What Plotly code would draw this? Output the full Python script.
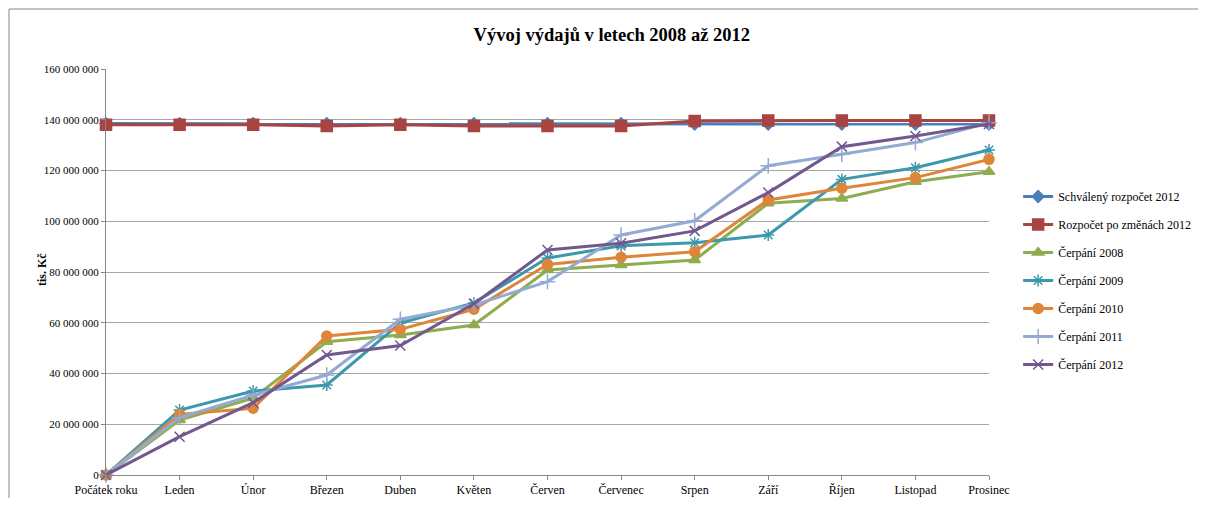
import plotly.graph_objects as go

months = ["Počátek roku", "Leden", "Únor", "Březen", "Duben", "Květen", "Červen",
          "Červenec", "Srpen", "Září", "Říjen", "Listopad", "Prosinec"]

schvaleny_2012 = [138.5, 138.5, 138.5, 138.5, 138.5, 138.5, 138.5, 138.5, 138.3, 138.3, 138.3, 138.3, 138.3]
rozpocet_zmeny_2012 = [138.0, 138.0, 138.0, 137.5, 138.0, 137.5, 137.5, 137.5, 139.5, 139.7, 139.7, 139.7, 139.7]
cerpani_2008 = [0, 21.7, 30.3, 52.5, 55.2, 59.1, 80.8, 82.8, 84.7, 107.1, 109.0, 115.6, 119.5]
cerpani_2009 = [0, 25.6, 33.1, 35.5, 59.9, 67.8, 85.5, 90.3, 91.5, 94.6, 116.5, 121.1, 128.1]
cerpani_2010 = [0, 23.9, 26.3, 54.8, 57.4, 65.3, 83.0, 85.8, 88.0, 108.4, 113.0, 117.2, 124.4]
cerpani_2011 = [0, 22.6, 31.5, 39.4, 61.4, 67.0, 76.2, 94.6, 100.2, 121.9, 126.4, 131.0, 138.8]
cerpani_2012 = [0, 15.1, 28.5, 47.3, 51.0, 67.5, 88.7, 91.3, 96.2, 111.3, 129.4, 133.6, 138.3]

series = [
    ("Schválený rozpočet 2012", schvaleny_2012, "#4A7EBB", "diamond", 9),
    ("Rozpočet po změnách 2012", rozpocet_zmeny_2012, "#A94442", "square", 11),
    ("Čerpání 2008", cerpani_2008, "#8EAD4F", "triangle-up", 10),
    ("Čerpání 2009", cerpani_2009, "#3D98AE", "asterisk-open", 10),
    ("Čerpání 2010", cerpani_2010, "#DE8539", "circle", 10),
    ("Čerpání 2011", cerpani_2011, "#93AAD2", "cross-thin-open", 11),
    ("Čerpání 2012", cerpani_2012, "#71588F", "x-thin-open", 10),
]

SERIF = "Liberation Serif"

fig = go.Figure()
for i, (name, vals, color, sym, size) in enumerate(series):
    fig.add_trace(go.Scatter(
        x=months, y=[v * 1e6 for v in vals], name=name, mode="lines+markers",
        legendgroup=f"g{i}", cliponaxis=False,
        line=dict(color=color, width=3),
        marker=dict(symbol=sym, size=size, color=color,
                    line=dict(color=color, width=1.5)),
    ))

# figure sized to fit inside the window with the 8px page margins (no scrollbars);
# plot area lands at about 106..989 x 69..475 on the page
fig.update_layout(
    width=1198, height=490,
    paper_bgcolor="white", plot_bgcolor="white",
    margin=dict(l=98, r=217, t=61, b=23, autoexpand=False),
    separators=", ",
    font=dict(family=SERIF, size=12, color="black"),
    title=dict(text="<b>Vývoj výdajů v letech 2008 až 2012</b>", x=0.504, xanchor="center",
               y=0.9449, yanchor="middle", font=dict(size=18.5, family=SERIF)),
    showlegend=True,
    legend=dict(x=1.033, xanchor="left", y=0.479, yanchor="middle",
                font=dict(size=12, family=SERIF), tracegroupgap=9,
                itemwidth=30, bgcolor="rgba(0,0,0,0)"),
    xaxis=dict(type="category", range=[0, 12], showgrid=False, automargin=False,
               showline=True, linecolor="#878787", linewidth=1,
               ticks="outside", ticklen=4, tickcolor="#878787",
               tickfont=dict(size=12, family=SERIF)),
    yaxis=dict(range=[0, 160e6], dtick=20e6, tickformat=",.0f", automargin=False,
               showgrid=True, gridcolor="#a6a6a6", gridwidth=1,
               showline=True, linecolor="#878787", linewidth=1,
               ticks="outside", ticklen=4, tickcolor="#878787",
               tickfont=dict(size=11, family=SERIF), zeroline=False),
    annotations=[dict(text="<b>tis. Kč</b>", xref="paper", yref="paper",
                      x=(42 - 106) / 883, y=(475 - 270) / 406, textangle=-90,
                      showarrow=False, xanchor="center", yanchor="middle",
                      font=dict(size=12, family=SERIF))],
    shapes=[dict(type="rect", xref="paper", yref="paper",
                 x0=-97/883, x1=1.3, y0=-0.2, y1=1 + 60/406,
                 line=dict(color="#878787", width=1), layer="below")],
)

fig.write_html("out.html")
